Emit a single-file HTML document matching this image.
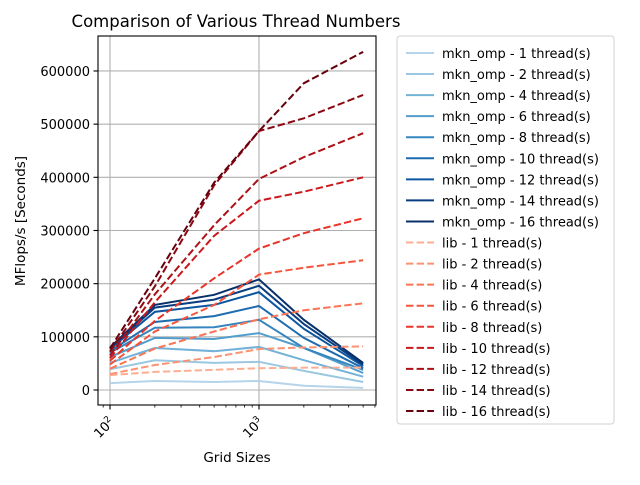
<!DOCTYPE html>
<html><head><meta charset="utf-8"><style>
body{margin:0;background:#fff;font-family:"Liberation Sans","DejaVu Sans",sans-serif;}
svg text{font-family:"DejaVu Sans","Liberation Sans",sans-serif;}
</style></head><body>
<svg id="chart" width="640" height="480" xmlns="http://www.w3.org/2000/svg">
<text x="236" y="27" font-size="16.5" text-anchor="middle">Comparison of Various Thread Numbers</text>
<g id="grid"></g><g id="series"></g>
<rect x="98" y="36" width="278" height="369" fill="none" stroke="#000" stroke-width="1.1"/>
<g id="axes"></g>
<text transform="translate(25,221) rotate(-90)" font-size="13.5" text-anchor="middle">MFlops/s [Seconds]</text>
<text x="237" y="462" font-size="13.5" text-anchor="middle">Grid Sizes</text>
<g id="legend"></g>
</svg>
<script>
const gridSizes=[100,200,500,1000,2000,5000];
const yTicks=[0,100000,200000,300000,400000,500000,600000];
const mkn1=[13000,17000,15000,17000,8000,4000];
const mkn2=[39000,56000,51000,53000,36000,15000];
const mkn4=[51000,79000,73000,81000,56000,25000];
const mkn6=[62000,98000,96000,107000,79000,32000];
const mkn8=[70000,117000,118000,132000,79000,38000];
const mkn10=[73000,128000,139000,158000,98000,41000];
const mkn12=[77000,147000,160000,184000,115000,45000];
const mkn14=[78000,155000,170000,196000,124000,48000];
const mkn16=[80000,160000,179000,208000,132000,51000];
const lib1=[28000,34000,38000,41000,42000,42000];
const lib2=[30000,47000,62000,77000,80000,82000];
const lib4=[40000,78000,110000,133000,150000,163000];
const lib6=[48000,110000,160000,217000,230000,244000];
const lib8=[55000,130000,210000,266000,295000,323000];
const lib10=[60000,165000,290000,356000,373000,400000];
const lib12=[65000,180000,310000,397000,438000,483000];
const lib14=[72000,195000,385000,487000,511000,555000];
const lib16=[78000,210000,390000,487000,577000,636000];
const threadCounts=[1,2,4,6,8,10,12,14,16];
const mknSeries=[mkn1,mkn2,mkn4,mkn6,mkn8,mkn10,mkn12,mkn14,mkn16];
const libSeries=[lib1,lib2,lib4,lib6,lib8,lib10,lib12,lib14,lib16];
const blues=["#b5d4e9","#9ac8e0","#73b2d8","#529dcc","#3585bf","#1d6cb1","#0c56a0","#083e81","#08306b"];
const reds=["#fcaf93","#fc9272","#fb7555","#f6553c","#e83429","#cb181d","#ad1116","#8a0812","#67000d"];
const NS="http://www.w3.org/2000/svg";
const L=98,R=376,T=36,B=405;
const lx0=Math.log10(100)-12/149, lx1=Math.log10(100)+266/149;
function xs(v){return L+(Math.log10(v)-lx0)/(lx1-lx0)*(R-L);}
function ys(v){return 390-(v/100000)*53.17;}
function mk(t,a,p){const e=document.createElementNS(NS,t);for(const k in a)e.setAttribute(k,a[k]);p.appendChild(e);return e;}
const grid=document.getElementById('grid'),axes=document.getElementById('axes'),ser=document.getElementById('series'),leg=document.getElementById('legend');
yTicks.forEach(v=>{const y=ys(v);
 const g=mk('line',{x1:L,x2:R,y1:y,y2:y,stroke:'#b0b0b0','stroke-width':1.1},grid);
 
 mk('line',{x1:L-4.5,x2:L,y1:y,y2:y,stroke:'#000','stroke-width':1.1},axes);
 const t=mk('text',{x:L-8,y:y+5,'font-size':13,'text-anchor':'end'},axes);t.textContent=String(v);
 });
[100,1000].forEach((v,i)=>{const x=xs(v);
 const g=mk('line',{x1:x,x2:x,y1:T,y2:B,stroke:'#b0b0b0','stroke-width':1.1},grid);
 
 mk('line',{x1:x,x2:x,y1:B,y2:B+4.5,stroke:'#000','stroke-width':1.1},axes);
 const t=mk('text',{transform:`translate(${x+5},${B+18}) rotate(-45)`,'font-size':13,'text-anchor':'end'},axes);
 t.innerHTML='10<tspan dy="-5" font-size="9">'+(i+2)+'</tspan>';
 });
[20,30,40,50,60,70,80,90,200,300,400,500,600,700,800,900,2000,3000,4000,5000,6000].forEach(v=>{const x=xs(v);if(x>L&&x<R)mk('line',{x1:x,x2:x,y1:B,y2:B+2.5,stroke:'#000','stroke-width':0.8},axes);});
function draw(arr,color,dash,name){
 const p=mk('polyline',{points:arr.map((v,i)=>xs(gridSizes[i])+','+ys(v)).join(' '),fill:'none',stroke:color,'stroke-width':2,'stroke-dasharray':dash},ser);
 }
mknSeries.forEach((s,i)=>draw(s,blues[i],'','mkn-omp-'+threadCounts[i]+'-threads-line'));
libSeries.forEach((s,i)=>draw(s,reds[i],'7.4,3.2','lib-'+threadCounts[i]+'-threads-line'));
const box=mk('rect',{x:397,y:36,width:217,height:388,rx:3,fill:'#fff',stroke:'#d0d0d0'},leg);

const labels=threadCounts.map(n=>'mkn_omp - '+n+' thread(s)').concat(threadCounts.map(n=>'lib - '+n+' thread(s)'));
const cols=blues.concat(reds);
labels.forEach((lab,i)=>{const y=53+i*21.06;
 const g=mk('g',{},leg);
 mk('line',{x1:406,x2:434,y1:y,y2:y,stroke:cols[i],'stroke-width':2,'stroke-dasharray':i>=9?'7.4,3.2':''},g);
 const t=mk('text',{x:442,y:y+5,'font-size':13},g);t.textContent=lab;});
</script>
</body></html>
